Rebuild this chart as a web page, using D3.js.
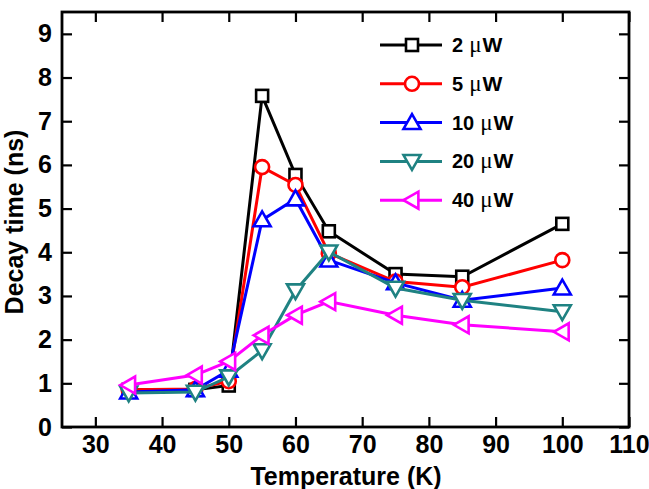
<!DOCTYPE html>
<html>
<head>
<meta charset="utf-8">
<script src="https://cdn.jsdelivr.net/npm/d3@7"></script>
<style>
  body { margin: 0; background: #fff; }
  svg text { font-family: Arial, 'Liberation Sans', sans-serif; font-weight: bold; }
</style>
</head>
<body>
<div id="graf"></div>
<script>
// temperatures (K)
const temps = [35, 45, 50, 55, 60, 65, 75, 85, 100]
// decay time (ns) per excitation power
const p2 = [0.85, 0.85, 0.95, 7.58, 5.77, 4.48, 3.5, 3.44, 4.65]
const p5 = [0.85, 0.87, 1.05, 5.95, 5.54, 3.98, 3.33, 3.2, 3.82]
const p10 = [0.8, 0.85, 1.3, 4.74, 5.22, 3.82, 3.3, 2.9, 3.18]
const p20 = [0.78, 0.8, 1.15, 1.75, 3.12, 4.01, 3.18, 2.9, 2.64]
const p40 = [0.96, 1.19, 1.5, 2.1, 2.56, 2.87, 2.56, 2.34, 2.18]
const labels = ['2', '5', '10', '20', '40']
const colores = ['#000000', '#ff0000', '#0000ff', '#1f8282', '#ff00ff']
const simbolos = ['square', 'circle', 'up', 'down', 'left']
const xTicks = [30, 40, 50, 60, 70, 80, 90, 100, 110]
const yTicks = [0, 1, 2, 3, 4, 5, 6, 7, 8, 9]

const series = [p2, p5, p10, p20, p40]

const svg = d3.select('#graf').append('svg')
  .attr('width', 649).attr('height', 489)

const margin = { top: 12, left: 62, right: 20, bottom: 62 }
const ancho = 629 - margin.left
const alto = 427 - margin.top

const g = svg.append('g').attr('transform', `translate(${margin.left}, ${margin.top})`)

const x = d3.scaleLinear().domain([25, 110]).range([0, ancho])
const y = d3.scaleLinear().domain([0, 9.5]).range([alto, 0])

const minorX = d3.range(25, 111, 5)
const minorY = d3.range(0, 9.6, 0.5)

// ejes con ticks hacia adentro
function ejes() {
  const bottom = g.append('g').attr('transform', `translate(0, ${alto})`)
  bottom.call(d3.axisBottom(x).tickValues(minorX).tickSize(-5).tickFormat(''))
  bottom.call(d3.axisBottom(x).tickValues(xTicks).tickSize(-10).tickPadding(8)
    .tickFormat(d => d))
  const top = g.append('g')
  top.call(d3.axisTop(x).tickValues(minorX).tickSize(-5).tickFormat(''))
  top.call(d3.axisTop(x).tickValues(xTicks).tickSize(-10).tickFormat(''))
  const left = g.append('g')
  left.call(d3.axisLeft(y).tickValues(minorY).tickSize(-5).tickFormat(''))
  left.call(d3.axisLeft(y).tickValues(yTicks).tickSize(-10).tickPadding(10).tickFormat(d => d))
  const right = g.append('g').attr('transform', `translate(${ancho}, 0)`)
  right.call(d3.axisRight(y).tickValues(minorY).tickSize(-5).tickFormat(''))
  right.call(d3.axisRight(y).tickValues(yTicks).tickSize(-10).tickFormat(''))

  g.selectAll('.domain').remove()
  g.selectAll('.tick line').attr('stroke', '#000').attr('stroke-width', 2.2)
  g.selectAll('.tick text').attr('font-size', 25).attr('fill', '#000')
    .style('font-family', 'Arial, "Liberation Sans", sans-serif').style('font-weight', 'bold')

  g.append('rect')
    .attr('width', ancho).attr('height', alto)
    .attr('fill', 'none').attr('stroke', '#000').attr('stroke-width', 2.8)
}
ejes()

function marcador(sel, tipo, color) {
  if (tipo === 'square') {
    sel.append('rect').attr('x', -6).attr('y', -6)
      .attr('width', 12).attr('height', 12)
  } else if (tipo === 'circle') {
    sel.append('circle').attr('r', 7)
  } else {
    const h = 8.5
    let pts
    if (tipo === 'up') pts = [[0, -h], [h, h * 0.75], [-h, h * 0.75]]
    if (tipo === 'down') pts = [[0, h], [h, -h * 0.75], [-h, -h * 0.75]]
    if (tipo === 'left') pts = [[-h, 0], [h * 0.75, -h], [h * 0.75, h]]
    sel.append('polygon').attr('points', pts.map(p => p.join(',')).join(' '))
  }
  sel.selectAll('*').attr('fill', '#fff').attr('stroke', color).attr('stroke-width', 2.6)
}

const linea = d3.line().x(d => x(d[0])).y(d => y(d[1]))

series.forEach((vals, i) => {
  const datos = temps.map((t, k) => [t, vals[k]])
  const sg = g.append('g')
  sg.append('path').datum(datos)
    .attr('d', linea).attr('fill', 'none')
    .attr('stroke', colores[i]).attr('stroke-width', 3)
  sg.selectAll('g.m').data(datos).enter().append('g')
    .attr('transform', d => `translate(${x(d[0])}, ${y(d[1])})`)
    .each(function () { marcador(d3.select(this), simbolos[i], colores[i]) })
})

// leyenda
const ley = svg.append('g').attr('transform', 'translate(380, 45)')
labels.forEach((l, i) => {
  const fila = ley.append('g').attr('transform', `translate(0, ${i * 38.8})`)
  fila.append('line').attr('x1', 0).attr('x2', 62)
    .attr('stroke', colores[i]).attr('stroke-width', 3)
  const m = fila.append('g').attr('transform', 'translate(32, 0)')
  marcador(m, simbolos[i], colores[i])
  const t = fila.append('text').attr('x', 72).attr('y', 7).attr('font-size', 20).attr('fill', '#000')
  t.append('tspan').text(l)
  t.append('tspan').attr('dx', 6).text('μ').style('font-family', '"Times New Roman", "Liberation Serif", serif')
    .style('font-weight', 'normal').attr('font-size', 23)
  t.append('tspan').attr('dx', 1).text('W').attr('font-size', 21)
})

svg.append('text')
  .attr('x', 346).attr('y', 485)
  .attr('text-anchor', 'middle').attr('font-size', 25).text('Temperature (K)')

svg.append('text')
  .attr('transform', 'translate(23, 222) rotate(-90)')
  .attr('text-anchor', 'middle').attr('font-size', 25).text('Decay time (ns)')
</script>
</body>
</html>
